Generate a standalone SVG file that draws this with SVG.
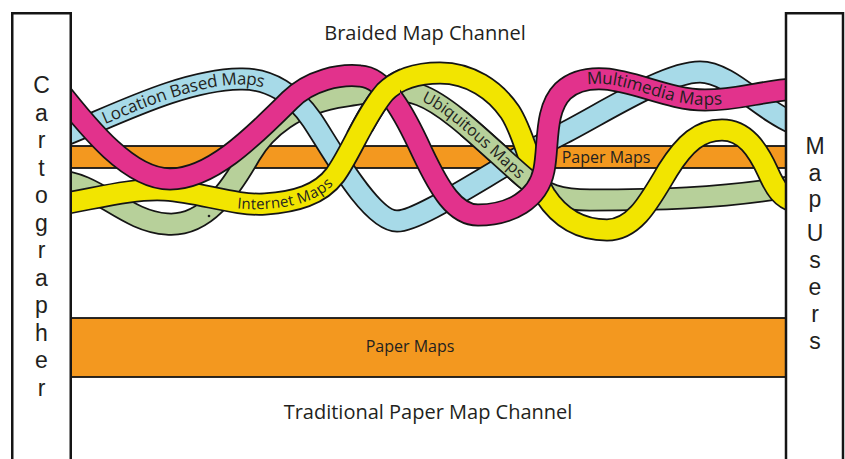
<svg xmlns="http://www.w3.org/2000/svg" width="845" height="459" viewBox="0 0 845 459">
<style>
  .edge{fill:none;stroke:#151515;stroke-width:23}
  .c-pink{fill:none;stroke:#E2328C;stroke-width:19.5}
  .c-blue{fill:none;stroke:#A7DAE8;stroke-width:19.5}
  .c-green{fill:none;stroke:#B7D09A;stroke-width:19.5}
  .c-yellow{fill:none;stroke:#F2E500;stroke-width:19.5}
  .band{fill:#F3981F;stroke:#151515;stroke-width:1.8}
  .box{fill:#fff;stroke:#151515;stroke-width:2.5}
  text{font-family:"Open Sans","Liberation Sans",sans-serif;fill:#231F20}
  .title{font-size:20px;text-anchor:middle}
  .vert{font-family:"Liberation Sans","Open Sans",sans-serif;font-size:23px;text-anchor:middle}
  .paper{font-size:16px;text-anchor:middle}
  .strand{font-size:16px}
</style>
<defs>
  <!-- strand centrelines -->
  <path id="p-blue" d="M55,139 C110,118 180,80 240,79 C270,78 295,95 312,120 C329,145 370,221 397,221 C422,221 500,165 560,135 C600,115 665,72 700,72 C730,72 760,110 795,124"/>
  <path id="p-green" d="M55,181 C95,180 125,222 167,224 C205,227 230,190 250,155 C265,129 295,103 345,96 C375,92 395,86 420,95 C450,106 490,148 525,178 C545,195 560,200 590,200 C650,200 720,199 795,186"/>
  <path id="p-yellow" d="M55,205 C90,200 130,188 165,190 C200,192 235,206 265,204 C295,202 320,195 335,175 C350,155 365,115 385,92 C400,77 420,73 440,73 C470,73 495,90 510,112 C525,135 530,170 545,195 C560,218 580,230 607,230 C635,230 650,200 668,170 C685,143 700,130 722,130 C745,130 758,150 768,172 C776,190 782,198 795,202"/>
  <path id="p-pink" d="M57,88 C90,130 130,179 170,179 C210,179 250,140 290,100 C310,80 340,74 360,76 C385,77 405,115 422,152 C440,190 455,215 478,215 C510,215 538,200 544,170 C549,145 544,110 563,91 C575,80 590,78 605,79 C635,81 670,100 705,100 C740,100 760,91 795,89"/>
  <!-- label guides -->
  <path id="g-internet" d="M205,197 C225,203 245,205 265,204 C295,202 320,195 335,175 C342,165 346,158 350,150"/>
  <path id="g-ubiq" d="M400,89 C410,90 415,93 420,95 C450,106 490,148 525,178 C535,186 545,193 555,197"/>
  <path id="g-multi" d="M563,91 C575,80 590,78 605,79 C635,81 670,100 705,100 C740,100 760,91 795,89"/>
  <clipPath id="clip-green"><rect x="460" y="110" width="80" height="90"/></clipPath>
  <clipPath id="clip-yellow"><rect x="345" y="62" width="55" height="70"/></clipPath>
</defs>

<g id="braided-channel-label">
  <text class="title" x="425" y="40">Braided Map Channel</text>
</g>

<g id="paper-maps-traditional">
  <rect class="band" x="60" y="318" width="735" height="59"/>
  <text class="paper" x="410" y="352">Paper Maps</text>
</g>

<g id="traditional-channel-label">
  <text class="title" x="428" y="419">Traditional Paper Map Channel</text>
</g>

<g id="connectors">
  <g id="paper-maps-braided">
    <rect class="band" x="60" y="146" width="735" height="22"/>
    <text class="paper" x="606" y="163">Paper Maps</text>
  </g>
  <g id="ubiquitous-maps">
    <use href="#p-green" class="edge"/>
    <use href="#p-green" class="c-green"/>
  </g>
  <circle cx="209" cy="216" r="1.3" fill="#222"/>
  <g id="location-based-maps">
    <use href="#p-blue" class="edge"/>
    <use href="#p-blue" class="c-blue"/>
    <text class="strand" style="font-size:17px"><textPath href="#p-blue" startOffset="52"><tspan dy="5.5">Location Based Maps</tspan></textPath></text>
  </g>
  <g id="internet-maps">
    <use href="#p-yellow" class="edge"/>
    <use href="#p-yellow" class="c-yellow"/>
    <text class="strand" style="font-size:15px"><textPath href="#g-internet" startOffset="33"><tspan dy="5">Internet Maps</tspan></textPath></text>
  </g>
  <!-- green passes over blue and yellow in the middle -->
  <g id="ubiquitous-maps-over" clip-path="url(#clip-green)">
    <use href="#p-green" class="edge"/>
    <use href="#p-green" class="c-green"/>
  </g>
  <text class="strand"><textPath href="#g-ubiq" startOffset="25"><tspan dy="5">Ubiquitous Maps</tspan></textPath></text>
  <g id="multimedia-maps">
    <use href="#p-pink" class="edge"/>
    <use href="#p-pink" class="c-pink"/>
    <text class="strand" style="font-size:17px"><textPath href="#g-multi" startOffset="27"><tspan dy="5">Multimedia Maps</tspan></textPath></text>
  </g>
  <!-- yellow rises over the pink crest -->
  <g id="internet-maps-over" clip-path="url(#clip-yellow)">
    <use href="#p-yellow" class="edge"/>
    <use href="#p-yellow" class="c-yellow"/>
  </g>
</g>

<g id="cartographer">
  <rect class="box" x="12.25" y="13.25" width="58.5" height="460"/>
  <text class="vert" x="41.5" y="93">C</text>
  <text class="vert" x="41.5" y="120.5">a</text>
  <text class="vert" x="41.5" y="148">r</text>
  <text class="vert" x="41.5" y="175.5">t</text>
  <text class="vert" x="41.5" y="203">o</text>
  <text class="vert" x="41.5" y="230.5">g</text>
  <text class="vert" x="41.5" y="258">r</text>
  <text class="vert" x="41.5" y="285.5">a</text>
  <text class="vert" x="41.5" y="313">p</text>
  <text class="vert" x="41.5" y="340.5">h</text>
  <text class="vert" x="41.5" y="368">e</text>
  <text class="vert" x="41.5" y="395.5">r</text>
</g>

<g id="map-users">
  <rect class="box" x="786" y="13.25" width="57" height="460"/>
  <text class="vert" x="815" y="154">M</text>
  <text class="vert" x="815" y="181">a</text>
  <text class="vert" x="815" y="207">p</text>
  <text class="vert" x="815" y="241">U</text>
  <text class="vert" x="815" y="268">s</text>
  <text class="vert" x="815" y="295">e</text>
  <text class="vert" x="815" y="322">r</text>
  <text class="vert" x="815" y="349">s</text>
</g>
</svg>
